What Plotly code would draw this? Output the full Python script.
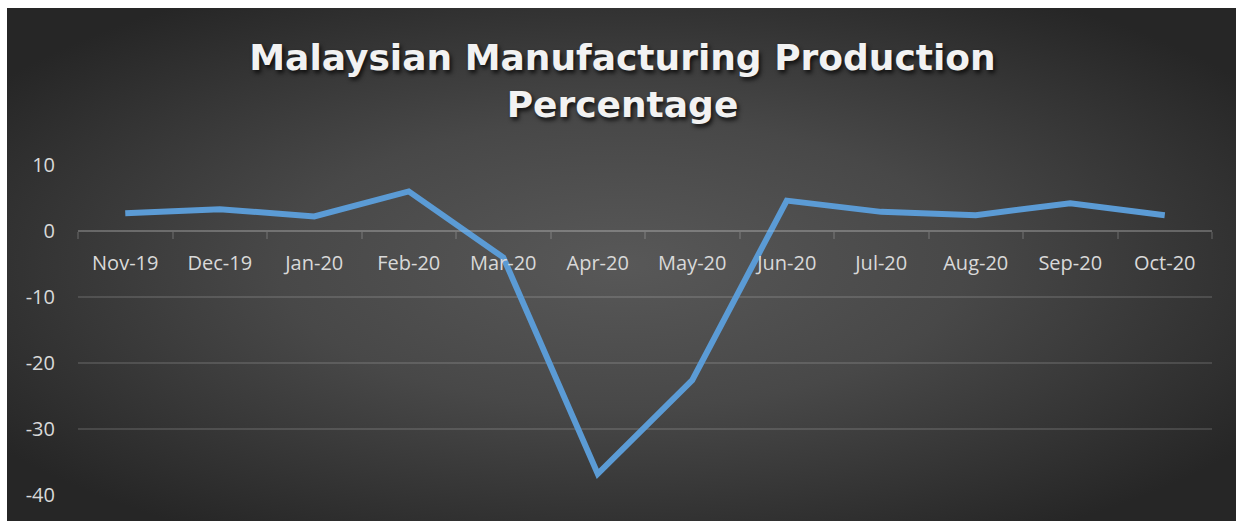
import base64
import plotly.graph_objects as go

months = ["Nov-19", "Dec-19", "Jan-20", "Feb-20", "Mar-20", "Apr-20",
          "May-20", "Jun-20", "Jul-20", "Aug-20", "Sep-20", "Oct-20"]
production_pct = [2.7, 3.3, 2.2, 6.0, -4.0, -36.8, -22.6, 4.6, 2.9, 2.4, 4.2, 2.4]
y_ticks = [10, 0, -10, -20, -30, -40]
y_tick_labels = ["10", "0", "-10", "-20", "-30", "-40"]

title_text = "Malaysian Manufacturing Production<br>Percentage"

W, H = 1236, 521
L, R, T, B = 78, 24, 165, 26
pw, ph = W - L - R, H - T - B

svg = (
    '<svg xmlns="http://www.w3.org/2000/svg" width="1229" height="513" '
    'preserveAspectRatio="none" viewBox="0 0 1229 513">'
    '<defs><radialGradient id="g" cx="0.5" cy="0.5" r="0.62" fx="0.5" fy="0.5">'
    '<stop offset="0" stop-color="#585858"/>'
    '<stop offset="0.45" stop-color="#484848"/>'
    '<stop offset="1" stop-color="#262626"/>'
    '</radialGradient></defs>'
    '<rect width="1229" height="513" fill="url(#g)"/></svg>'
)
svg_uri = "data:image/svg+xml;base64," + base64.b64encode(svg.encode()).decode()

fig = go.Figure()
fig.add_trace(go.Scatter(
    x=months, y=production_pct, mode="lines",
    line=dict(color="#5b9bd5", width=6),
    hoverinfo="skip", showlegend=False,
))

bg_x0, bg_y0 = 7, 8
fig.add_layout_image(dict(
    source=svg_uri, xref="paper", yref="paper",
    x=(bg_x0 - L) / pw, y=(H - B - bg_y0) / ph,
    sizex=(W - bg_x0) / pw, sizey=(H - bg_y0) / ph,
    sizing="stretch", xanchor="left", yanchor="top", layer="below",
))

grid_col = "rgba(255,255,255,0.13)"
fig.update_layout(
    width=W, height=H,
    margin=dict(l=L, r=R, t=T, b=B),
    paper_bgcolor="white",
    plot_bgcolor="rgba(0,0,0,0)",
    title=dict(
        text=title_text, x=(253 + 992) / 2 / W, xanchor="center",
        xref="container", y=1 - 70 / H, yanchor="top", yref="container",
        font=dict(family="DejaVu Sans", size=36, color="#f2f2f2", weight="bold",
                  shadow="2px 3px 4px rgba(0,0,0,0.75)"),
    ),
    xaxis=dict(
        type="category", range=[-0.5, 11.5],
        anchor="free", position=40 / 50,
        showgrid=False, showline=True, linecolor=grid_col, linewidth=1.5,
        ticks="outside", tickson="boundaries", ticklen=7, tickwidth=1.5,
        tickcolor=grid_col, ticklabelstandoff=14,
        tickfont=dict(family="Open Sans", size=20, color="#d9d9d9"),
        zeroline=False, fixedrange=True,
    ),
    yaxis=dict(
        range=[-40, 10], tickvals=y_ticks, ticktext=y_tick_labels,
        showgrid=True, gridcolor=grid_col, gridwidth=1.5,
        zeroline=False, showline=False, ticks="", ticklabelstandoff=22,
        tickfont=dict(family="Open Sans", size=20, color="#d9d9d9"),
        fixedrange=True,
    ),
)

fig.write_html("out.html")
